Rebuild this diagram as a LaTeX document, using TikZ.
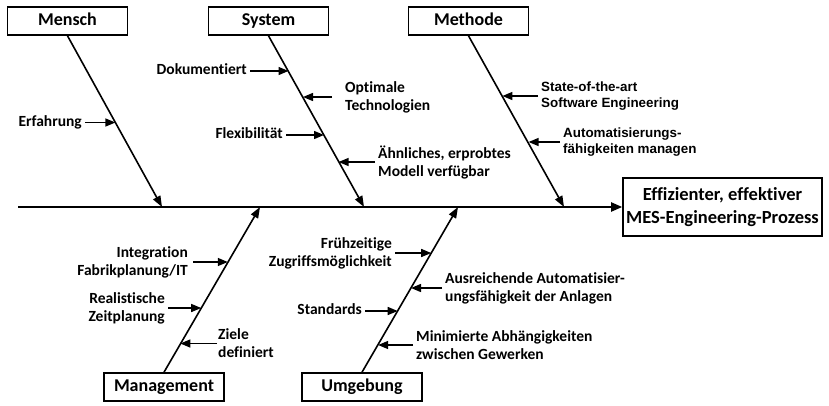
\documentclass[tikz,border=0pt]{standalone}
\usepackage{fontspec}
\setmainfont{Carlito}[Ligatures=NoCommon]
\newfontfamily\arialfont{Liberation Sans}
\usetikzlibrary{arrows.meta}
\begin{document}
\begin{tikzpicture}[x=1pt,y=-1pt,
  cat/.style={draw, line width=1.6pt, minimum width=120pt, minimum height=28pt,
    inner sep=0pt, text height=12.5pt, text depth=3.5pt,
    font=\fontsize{18}{21}\selectfont\bfseries},
  effect/.style={draw, line width=1.6pt, minimum width=199pt, minimum height=58pt,
    inner sep=0pt, align=center, font=\fontsize{18.5}{22.5}\selectfont\bfseries},
  bone/.style={line width=1.6pt, -{Triangle[length=11pt,width=8pt]}},
  spine/.style={line width=2pt, -{Triangle[length=11pt,width=9pt]}},
  twig/.style={line width=1.4pt, -{Triangle[length=10pt,width=8pt]}},
  lblL/.style={anchor=east, inner xsep=3pt, inner ysep=0pt, align=right,
    font=\fontsize{15.5}{18}\selectfont\bfseries},
  lblR/.style={anchor=west, inner xsep=3pt, inner ysep=0pt, align=left,
    font=\fontsize{15.5}{18}\selectfont\bfseries},
  lblA/.style={anchor=west, inner xsep=3pt, inner ysep=0pt, align=left,
    font=\fontsize{13.4}{16}\selectfont\arialfont\bfseries},
  one/.style={text height=10.5pt, text depth=3pt}
]
\useasboundingbox (0,0) rectangle (829,405);

% category boxes
\node[cat] (mensch)  at (67.5,21)  {Mensch};
\node[cat] (system)  at (268.5,21) {System};
\node[cat] (methode) at (468.5,21) {Methode};
\node[cat] (mgmt)    at (164,387)  {Management};
\node[cat] (umgeb)   at (362,387)  {Umgebung};

% effect box and backbone
\node[effect] (eff) at (722.5,207) {Effizienter, effektiver\\MES-Engineering-Prozess};
\coordinate (tail) at (18,207);
\draw[spine] (tail) -- (eff.west);

% points where the bones meet the backbone
\coordinate (j1) at (162,207);
\coordinate (j2) at (364,207);
\coordinate (j3) at (564,207);
\coordinate (j4) at (260,207);
\coordinate (j5) at (458,207);

\draw[bone] (mensch.south)  -- (j1);
\draw[bone] (system.south)  -- (j2);
\draw[bone] (methode.south) -- (j3);
\draw[bone] (mgmt.north)    -- (j4);
\draw[bone] (umgeb.north)   -- (j5);

% Mensch
\node[lblL, one] (erf) at (85,122.5) {Erfahrung};
\coordinate (t1) at (115.4,122.5);
\draw[twig] (erf.east) -- (t1);

% System
\node[lblL, one] (dok) at (250,71) {Dokumentiert};
\coordinate (t2) at (288.5,71);
\draw[twig] (dok.east) -- (t2);

\node[lblR, inner xsep=13pt] (opt) at (332,97) {Optimale\\Technologien};
\coordinate (t3) at (303,97);
\draw[twig] (opt.west) -- (t3);

\node[lblL, one] (flex) at (286,135) {Flexibilität};
\coordinate (t4) at (324,135);
\draw[twig] (flex.east) -- (t4);

\node[lblR] (aehn) at (375,162) {Ähnliches, erprobtes\\Modell verfügbar};
\coordinate (t5) at (338.6,162);
\draw[twig] (aehn.west) -- (t5);

% Methode
\node[lblA] (sota) at (538,96) {State-of-the-art\\Software Engineering};
\coordinate (t6) at (502.4,96);
\draw[twig] (sota.west) -- (t6);

\node[lblA] (auto) at (560,142) {Automatisierungs-\\fähigkeiten managen};
\coordinate (t7) at (528.6,142);
\draw[twig] (auto.west) -- (t7);

% Management
\node[lblL, inner xsep=5pt] (integ) at (193,262) {Integration\\Fabrikplanung/IT};
\coordinate (t8) at (227.8,262);
\draw[twig] (integ.east) -- (t8);

\node[lblL] (real) at (168,308) {Realistische\\Zeitplanung};
\coordinate (t9) at (201.2,308);
\draw[twig] (real.east) -- (t9);

\node[lblR, inner xsep=1pt] (ziele) at (217,343.5) {Ziele\\definiert};
\coordinate (t10) at (180.3,343.5);
\draw[twig] (ziele.west) -- (t10);

% Umgebung
\node[lblL] (frueh) at (395,253) {Frühzeitige\\Zugriffsmöglichkeit};
\coordinate (t11) at (431.2,253);
\draw[twig] (frueh.east) -- (t11);

\node[lblR] (ausr) at (442,288) {Ausreichende Automatisier-\\ungsfähigkeit der Anlagen};
\coordinate (t12) at (411,288);
\draw[twig] (ausr.west) -- (t12);

\node[lblL, one] (std) at (365,311) {Standards};
\coordinate (t13) at (397.7,311);
\draw[twig] (std.east) -- (t13);

\node[lblR] (mini) at (413,345) {Minimierte Abhängigkeiten\\zwischen Gewerken};
\coordinate (t14) at (378.1,345);
\draw[twig] (mini.west) -- (t14);
\end{tikzpicture}
\end{document}
